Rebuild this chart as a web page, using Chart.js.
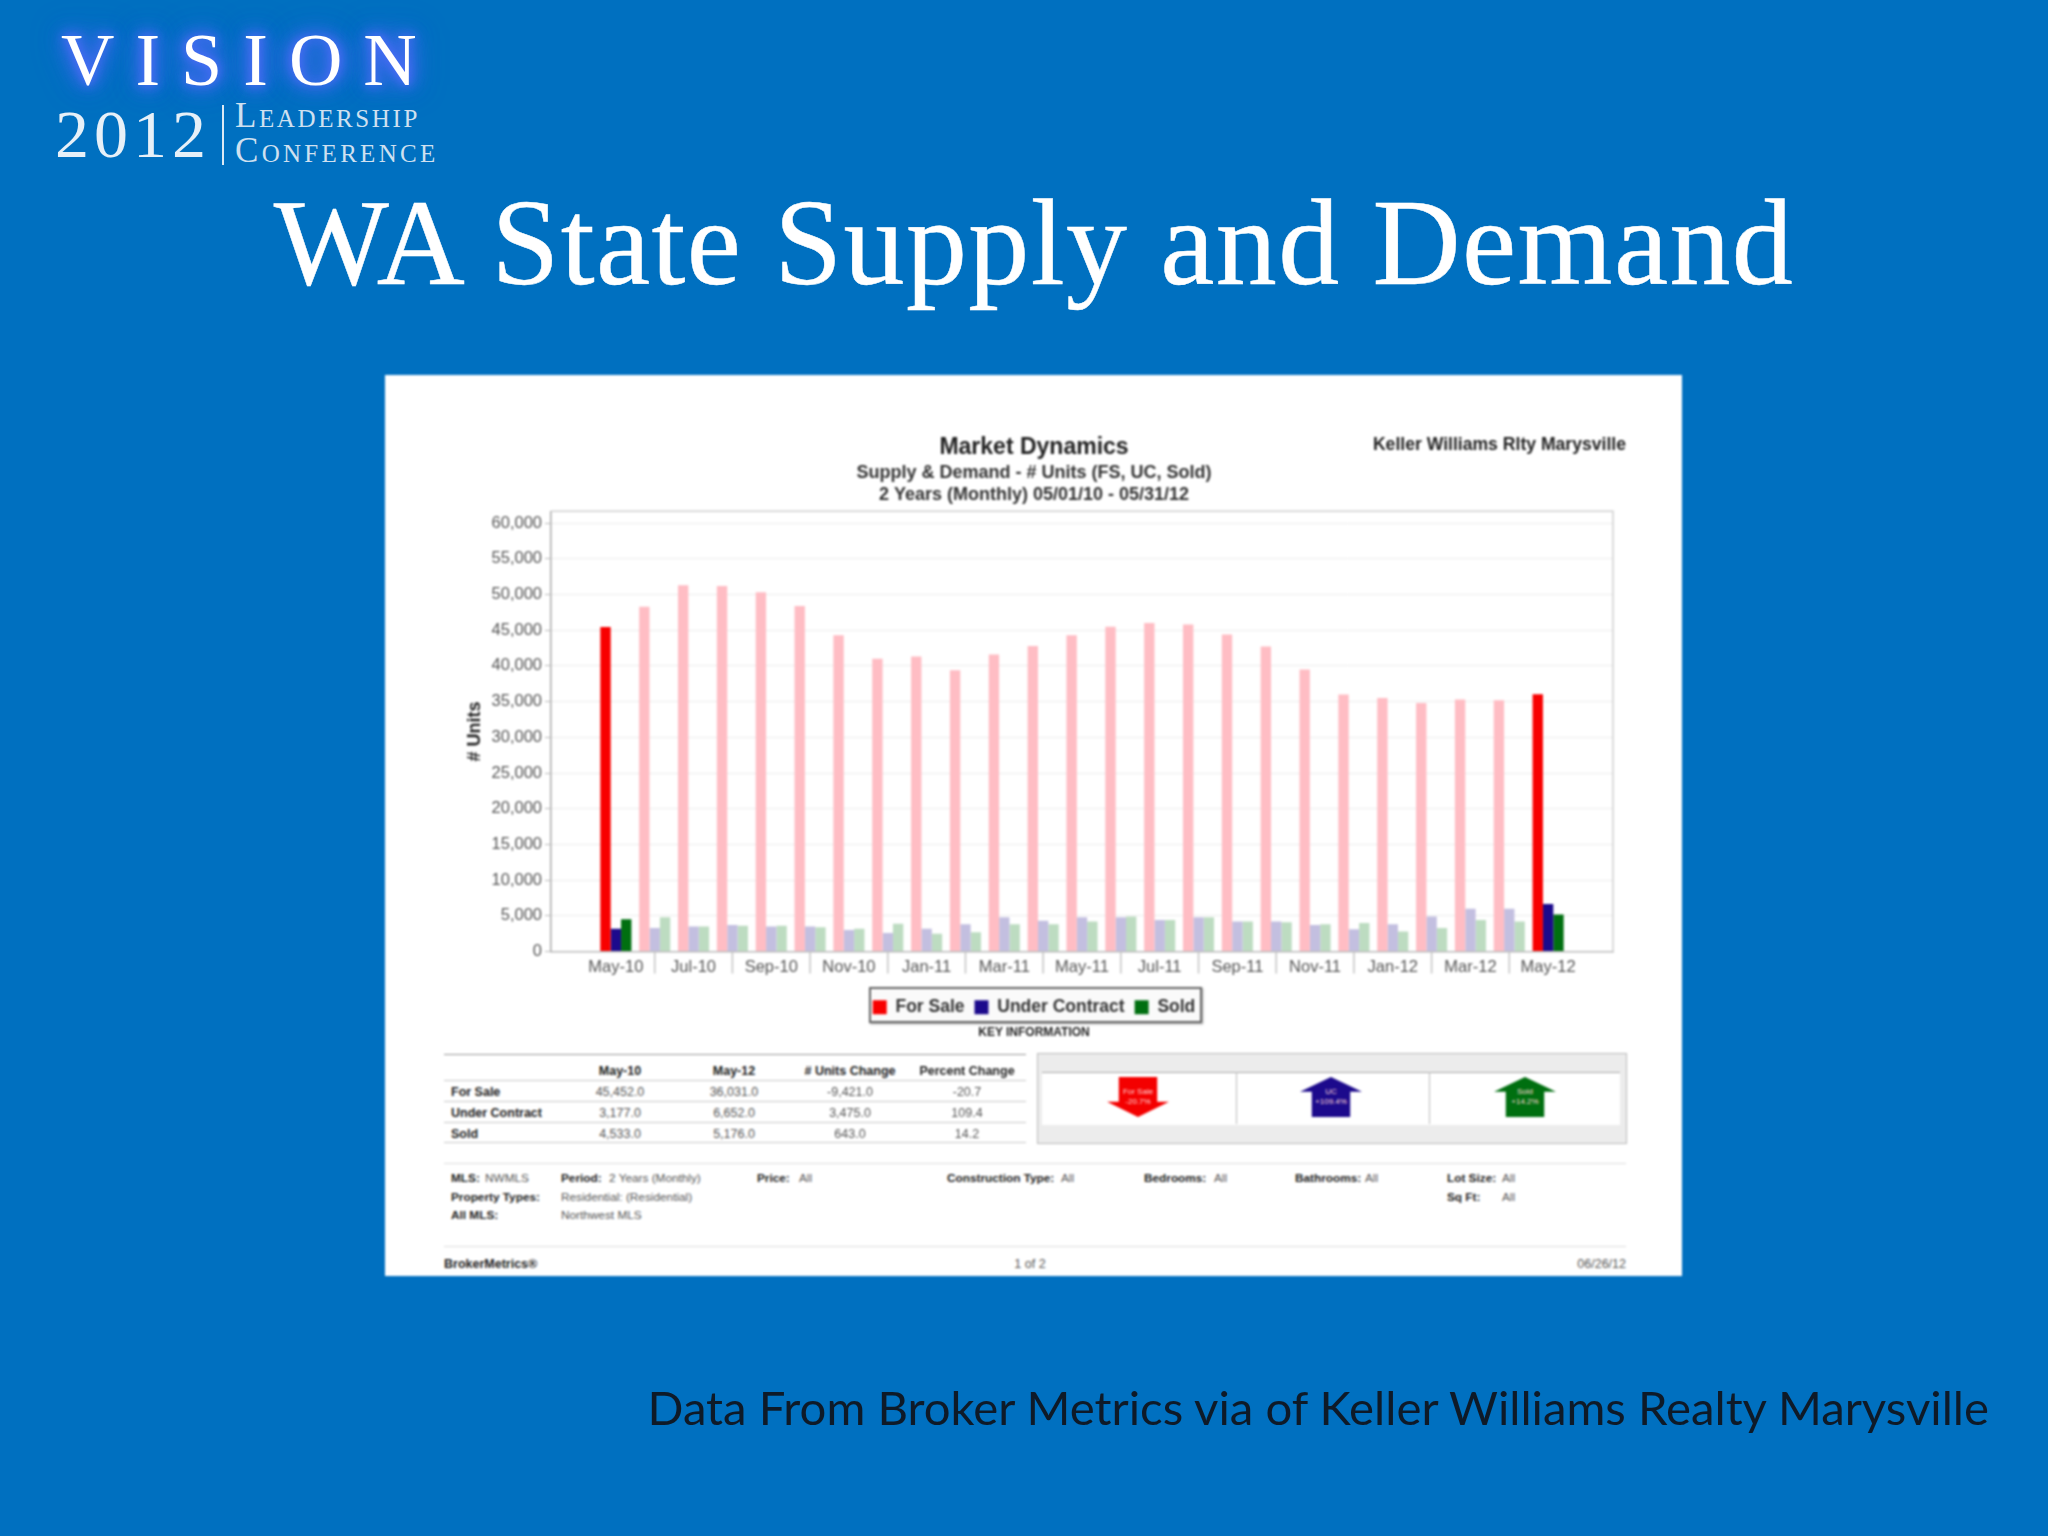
<!DOCTYPE html>
<html>
<head>
<meta charset="utf-8">
<title>WA State Supply and Demand</title>
<script src="https://cdn.jsdelivr.net/npm/chart.js@4"></script>
<style>
    html, body { margin: 0; padding: 0; }
    body { width: 2048px; height: 1536px; overflow: hidden; background: #0070c0; position: relative; font-family: "Liberation Sans", sans-serif; }
    .abs { position: absolute; white-space: nowrap; }
    #slide-title { left: 1034px; top: 243px; transform: translate(-50%, -50%); font: 122px "Liberation Serif", serif; letter-spacing: 1.4px; color: #fff; -webkit-text-stroke: 0.5px #fff; }
    #source { right: 59px; top: 1405.5px; transform: translateY(-50%); font: 47.3px Lato, sans-serif; color: #0e1a28; }
    #logo-vision { left: 61px; top: 60px; transform: translateY(-50%); font: 74px "Liberation Serif", serif; letter-spacing: 21px; color: #fff; text-shadow: 0 0 8px #4a6cf5, 0 0 14px #4a6cf5, 0 0 20px #4a6cf5, 0 0 26px #4a6cf5, 0 0 34px #3f63e8; }
    #logo-year { left: 55px; top: 134px; transform: translateY(-50%); font: 68px "Liberation Serif", serif; letter-spacing: 5px; color: #e6f0f8; }
    #logo-bar { left: 222px; top: 105px; width: 2px; height: 60px; background: #dce9f4; }
    #logo-l1, #logo-l2 { left: 235px; font: 35px "Liberation Serif", serif; font-variant: small-caps; color: #cfe0f0; transform: translateY(-50%); }
    #logo-l1 { top: 116px; letter-spacing: 2.6px; }
    #logo-l2 { top: 151px; letter-spacing: 3.3px; }

    #report { position: absolute; left: 0; top: 0; width: 2048px; height: 1536px; filter: blur(1px); }
    #panel { left: 385px; top: 375px; width: 1297px; height: 901px; background: #fff; }
    #legend-frame { left: 869px; top: 987px; width: 329px; height: 32px; border: 2px solid #666; background: #fafafa; box-shadow: 1px 1px 2px #999; }
    #chart { position: absolute; left: 385px; top: 375px; }
    .rule { position: absolute; background: #c9c9c9; height: 1px; }
    .t { position: absolute; white-space: nowrap; font-size: 12.5px; color: #555; }
    .b { font-weight: bold; color: #222; }
    #arrow-panel { left: 1037px; top: 1053px; width: 588px; height: 89px; background: #ececec; border: 1px solid #bbb; }
    #arrow-inner { left: 1042px; top: 1072px; width: 578px; height: 52px; background: #fff; border-top: 1px solid #aaa; }
    .sep { position: absolute; top: 1072px; width: 1px; height: 52px; background: #bbb; }
    .arrow { position: absolute; top: 1077px; width: 62px; height: 40px; }
    .arrow-down { clip-path: polygon(19% 0, 81% 0, 81% 62%, 100% 62%, 50% 100%, 0 62%, 19% 62%); }
    .arrow-up { clip-path: polygon(50% 0, 100% 37%, 81% 37%, 81% 100%, 19% 100%, 19% 37%, 0 37%); }
    .arrow-text { position: absolute; top: 1097px; transform: translate(-50%, -50%); text-align: center; color: #ffd9d9; font-size: 8px; line-height: 10px; white-space: pre; }
</style>
</head>
<body>
<div class="abs" id="logo-vision">VISION</div>
<div class="abs" id="logo-year">2012</div>
<div class="abs" id="logo-bar"></div>
<div class="abs" id="logo-l1">Leadership</div>
<div class="abs" id="logo-l2">Conference</div>
<div class="abs" id="slide-title">WA State Supply and Demand</div>

<div id="report">
    <div class="abs" id="panel"></div>
    <div class="abs" id="legend-frame"></div>
    <canvas id="chart" width="1297" height="651"></canvas>
    <div class="abs" id="arrow-panel"></div>
    <div class="abs" id="arrow-inner"></div>
</div>

<div class="abs" id="source">Data From Broker Metrics via of Keller Williams Realty Marysville</div>

<script>
// --- DATA ---
const months = ['May-10', 'Jun-10', 'Jul-10', 'Aug-10', 'Sep-10', 'Oct-10', 'Nov-10', 'Dec-10', 'Jan-11', 'Feb-11', 'Mar-11', 'Apr-11',
    'May-11', 'Jun-11', 'Jul-11', 'Aug-11', 'Sep-11', 'Oct-11', 'Nov-11', 'Dec-11', 'Jan-12', 'Feb-12', 'Mar-12', 'Apr-12', 'May-12'];
const forSale = [45452, 48300, 51300, 51200, 50300, 48400, 44300, 41000, 41300, 39400, 41600, 42800,
    44300, 45500, 46000, 45800, 44400, 42700, 39500, 36000, 35500, 34800, 35300, 35200, 36031];
const underContract = [3177, 3300, 3500, 3700, 3500, 3500, 3000, 2600, 3200, 3800, 4800, 4300,
    4800, 4800, 4400, 4800, 4200, 4200, 3700, 3100, 3800, 4900, 6000, 6000, 6652];
const sold = [4533, 4800, 3500, 3600, 3600, 3400, 3200, 3900, 2500, 2700, 3800, 3800,
    4200, 4900, 4400, 4800, 4200, 4100, 3800, 4000, 2800, 3300, 4400, 4200, 5176];
const yTicks = [0, 5000, 10000, 15000, 20000, 25000, 30000, 35000, 40000, 45000, 50000, 55000, 60000];

const tableHeaders = ['May-10', 'May-12', '# Units Change', 'Percent Change'];
const tableRows = [
    ['For Sale', '45,452.0', '36,031.0', '-9,421.0', '-20.7'],
    ['Under Contract', '3,177.0', '6,652.0', '3,475.0', '109.4'],
    ['Sold', '4,533.0', '5,176.0', '643.0', '14.2']
];

// --- REPORT TEXT ---
const report = document.getElementById('report');

function put(text, x, y, bold = false, align = 'left') {
    const el = document.createElement('div');
    el.className = bold ? 't b' : 't';
    el.textContent = text;
    el.style.left = x + 'px';
    el.style.top = y + 'px';
    const shift = align === 'center' ? '-50%' : align === 'right' ? '-100%' : '0';
    el.style.transform = `translate(${shift}, -50%)`;
    report.appendChild(el);
    return el;
}

function rule(y, x1, x2, color) {
    const el = document.createElement('div');
    el.className = 'rule';
    el.style.left = x1 + 'px';
    el.style.top = y + 'px';
    el.style.width = (x2 - x1) + 'px';
    if (color) el.style.background = color;
    report.appendChild(el);
}

put('Keller Williams Rlty Marysville', 1626, 444, true, 'right').style.fontSize = '17.6px';
put('KEY INFORMATION', 1034, 1032, true, 'center').style.fontSize = '12px';

// key information table
const columnX = [620, 734, 850, 967];
const rowY = [1092, 1113, 1134];
rule(1054, 444, 1026, '#999');
[1080, 1101, 1122, 1142].forEach(y => rule(y, 444, 1026));
tableHeaders.forEach((h, i) => put(h, columnX[i], 1071, true, 'center'));
tableRows.forEach((row, r) => {
    put(row[0], 451, rowY[r], true);
    row.slice(1).forEach((v, c) => put(v, columnX[c], rowY[r], false, 'center'));
});

// arrows
[
    { x: 1138, color: '#f40000', dir: 'down', text: 'For Sale\n-20.7%' },
    { x: 1331, color: '#1c0a8c', dir: 'up', text: 'UC\n+109.4%' },
    { x: 1525, color: '#006f10', dir: 'up', text: 'Sold\n+14.2%' }
].forEach(a => {
    const el = document.createElement('div');
    el.className = `arrow arrow-${a.dir}`;
    el.style.left = (a.x - 31) + 'px';
    el.style.background = a.color;
    report.appendChild(el);
    const label = document.createElement('div');
    label.className = 'arrow-text';
    label.style.left = a.x + 'px';
    label.textContent = a.text;
    report.appendChild(label);
});
[1236, 1429].forEach(x => {
    const el = document.createElement('div');
    el.className = 'sep';
    el.style.left = x + 'px';
    report.appendChild(el);
});

// criteria box
rule(1163, 444, 1626, '#ddd');
rule(1246, 444, 1626, '#ddd');
[
    ['MLS:', 451, 1178], ['Period:', 561, 1178], ['Price:', 757, 1178], ['Construction Type:', 947, 1178],
    ['Bedrooms:', 1144, 1178], ['Bathrooms:', 1295, 1178], ['Lot Size:', 1447, 1178],
    ['Property Types:', 451, 1197], ['Sq Ft:', 1447, 1197], ['All MLS:', 451, 1215]
].forEach(([text, x, y]) => { put(text, x, y, true).style.fontSize = '11.8px'; });
[
    ['NWMLS', 485, 1178], ['2 Years (Monthly)', 609, 1178], ['All', 799, 1178], ['All', 1061, 1178],
    ['All', 1214, 1178], ['All', 1365, 1178], ['All', 1502, 1178], ['All', 1502, 1197],
    ['Residential: (Residential)', 561, 1197], ['Northwest MLS', 561, 1215]
].forEach(([text, x, y]) => { put(text, x, y).style.fontSize = '11.8px'; });

// footer
put('BrokerMetrics®', 444, 1264, true);
put('1 of 2', 1030, 1264, false, 'center');
put('06/26/12', 1626, 1264, false, 'right');

// --- CHART ---
Chart.defaults.font.family = '"Liberation Sans", sans-serif';

// only the first and last month are shown at full strength
function barColor(full, faded) {
    return ctx => (ctx.dataIndex > 0 && ctx.dataIndex < months.length - 1) ? faded : full;
}

function series(label, values, full, faded) {
    return {
        label,
        data: values.map((y, x) => ({ x, y })),
        backgroundColor: barColor(full, faded),
        borderWidth: 0,
        categoryPercentage: 0.8,
        barPercentage: 1
    };
}

const plotFrame = {
    id: 'plotFrame',
    afterDraw(chart) {
        const { ctx, chartArea: a, scales: { x } } = chart;
        ctx.save();
        ctx.lineWidth = 1.5;
        ctx.strokeStyle = '#d0d0d0';
        ctx.beginPath();
        ctx.moveTo(a.left, a.top);
        ctx.lineTo(a.right, a.top);
        ctx.lineTo(a.right, a.bottom);
        ctx.stroke();
        // separators sit halfway between the labelled months
        ctx.strokeStyle = '#c4c4c4';
        ctx.beginPath();
        months.forEach((m, i) => {
            if (i % 2 === 1) {
                const px = x.getPixelForValue(i);
                ctx.moveTo(px, a.bottom);
                ctx.lineTo(px, a.bottom + 22);
            }
        });
        ctx.stroke();
        ctx.restore();
    }
};

new Chart(document.getElementById('chart').getContext('2d'), {
    type: 'bar',
    data: {
        datasets: [
            series('For Sale', forSale, '#f80000', '#ffbdc4'),
            series('Under Contract', underContract, '#1c0a8c', '#c3bfe0'),
            series('Sold', sold, '#006f10', '#bddcc1')
        ]
    },
    plugins: [plotFrame],
    options: {
        responsive: false,
        animation: false,
        devicePixelRatio: 1,
        layout: { padding: { top: 0, right: 69, bottom: 0, left: 70 } },
        scales: {
            x: {
                type: 'linear',
                offset: false,
                min: -1.67,
                max: 25.67,
                grid: { display: false, offset: false },
                border: { color: '#bbb', width: 1.5 },
                ticks: {
                    stepSize: 2,
                    autoSkip: false,
                    maxRotation: 0,
                    includeBounds: false,
                    padding: -2,
                    color: '#555',
                    font: { size: 16.5 },
                    callback: v => months[v]
                },
                afterFit: s => { s.height = 37; }
            },
            y: {
                min: 0,
                max: 61650,
                grid: { color: '#ececec', tickLength: 6, tickColor: '#bbb' },
                border: { color: '#aaa', width: 1.5 },
                title: { display: true, text: '# Units', color: '#222', font: { size: 18, weight: 'bold' }, padding: { top: 9, bottom: 0 } },
                afterBuildTicks: s => { s.ticks = yTicks.map(value => ({ value })); },
                ticks: {
                    padding: 3,
                    color: '#555',
                    font: { size: 16.5 },
                    callback: v => v.toLocaleString('en-US')
                },
                afterFit: s => { s.width = 96; }
            }
        },
        plugins: {
            title: {
                display: true,
                text: 'Market Dynamics',
                color: '#222',
                font: { size: 23, weight: 'bold' },
                padding: { top: 59, bottom: 1.4 }
            },
            subtitle: {
                display: true,
                text: ['Supply & Demand - # Units (FS, UC, Sold)', '2 Years (Monthly) 05/01/10 - 05/31/12'],
                color: '#333',
                font: { size: 18, weight: 'bold', lineHeight: 1.17 },
                padding: { top: 0, bottom: 6.2 }
            },
            legend: {
                position: 'bottom',
                labels: {
                    boxWidth: 14,
                    boxHeight: 14,
                    padding: 10,
                    color: '#333',
                    font: { size: 17.5, weight: 'bold' }
                }
            },
            tooltip: { enabled: false }
        }
    }
});
</script>
</body>
</html>
